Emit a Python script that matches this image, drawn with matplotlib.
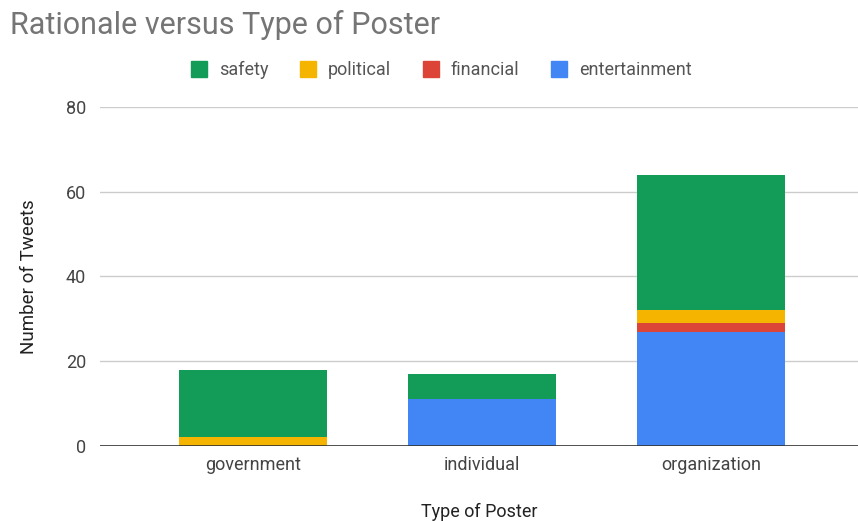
import matplotlib.pyplot as plt
from matplotlib.lines import Line2D

plt.rcParams['font.family'] = ['Roboto', 'DejaVu Sans']

posters = ['government', 'individual', 'organization']
entertainment = [0, 11, 27]
financial = [0, 0, 2]
political = [2, 0, 3]
safety = [16, 6, 32]

colors = {
    'safety': '#129c58',
    'political': '#f5b400',
    'financial': '#dc4437',
    'entertainment': '#4285f4',
}

fig = plt.figure(figsize=(8.58, 5.21), dpi=100)
ax = fig.add_axes([0.1166, 0.144, 0.8834, 0.651])

x = list(range(len(posters)))
w = 0.646
bottom = [0] * len(posters)
for name, vals in [('entertainment', entertainment), ('financial', financial),
                   ('political', political), ('safety', safety)]:
    ax.bar(x, vals, w, bottom=bottom, color=colors[name], linewidth=0, zorder=3)
    bottom = [b + v for b, v in zip(bottom, vals)]

ax.set_xlim(-0.668, 2.642)
ax.set_ylim(0, 80)
ax.set_yticks([0, 20, 40, 60, 80])
ax.set_xticks(x)
ax.set_xticklabels(posters)
ax.grid(axis='y', color='#cccccc', linewidth=1, zorder=0)
ax.axhline(0, color='#333333', linewidth=1.2, zorder=4)
for s in ax.spines.values():
    s.set_visible(False)
ax.tick_params(length=0, labelsize=13, labelcolor='#444444')
ax.tick_params(axis='x', pad=7)
ax.tick_params(axis='y', pad=10)

ax.set_ylabel('Number of Tweets', fontsize=13.5, color='#222222', labelpad=20)
ax.set_xlabel('Type of Poster', fontsize=13, color='#222222', labelpad=21)

fig.text(0.012, 0.935, 'Rationale versus Type of Poster', fontsize=22,
         color='#757575', va='baseline')

labels = ['safety', 'political', 'financial', 'entertainment']
handles = [Line2D([], [], marker='s', linestyle='none', markersize=12,
                  markerfacecolor=colors[n], markeredgecolor=colors[n])
           for n in labels]
fig.legend(handles, labels,
           loc='center', bbox_to_anchor=(0.513, 0.866), ncol=4, frameon=False,
           fontsize=13, labelcolor='#555555', handletextpad=0.5,
           columnspacing=1.6, handlelength=1.2)

fig.savefig('out.png', dpi=100)
